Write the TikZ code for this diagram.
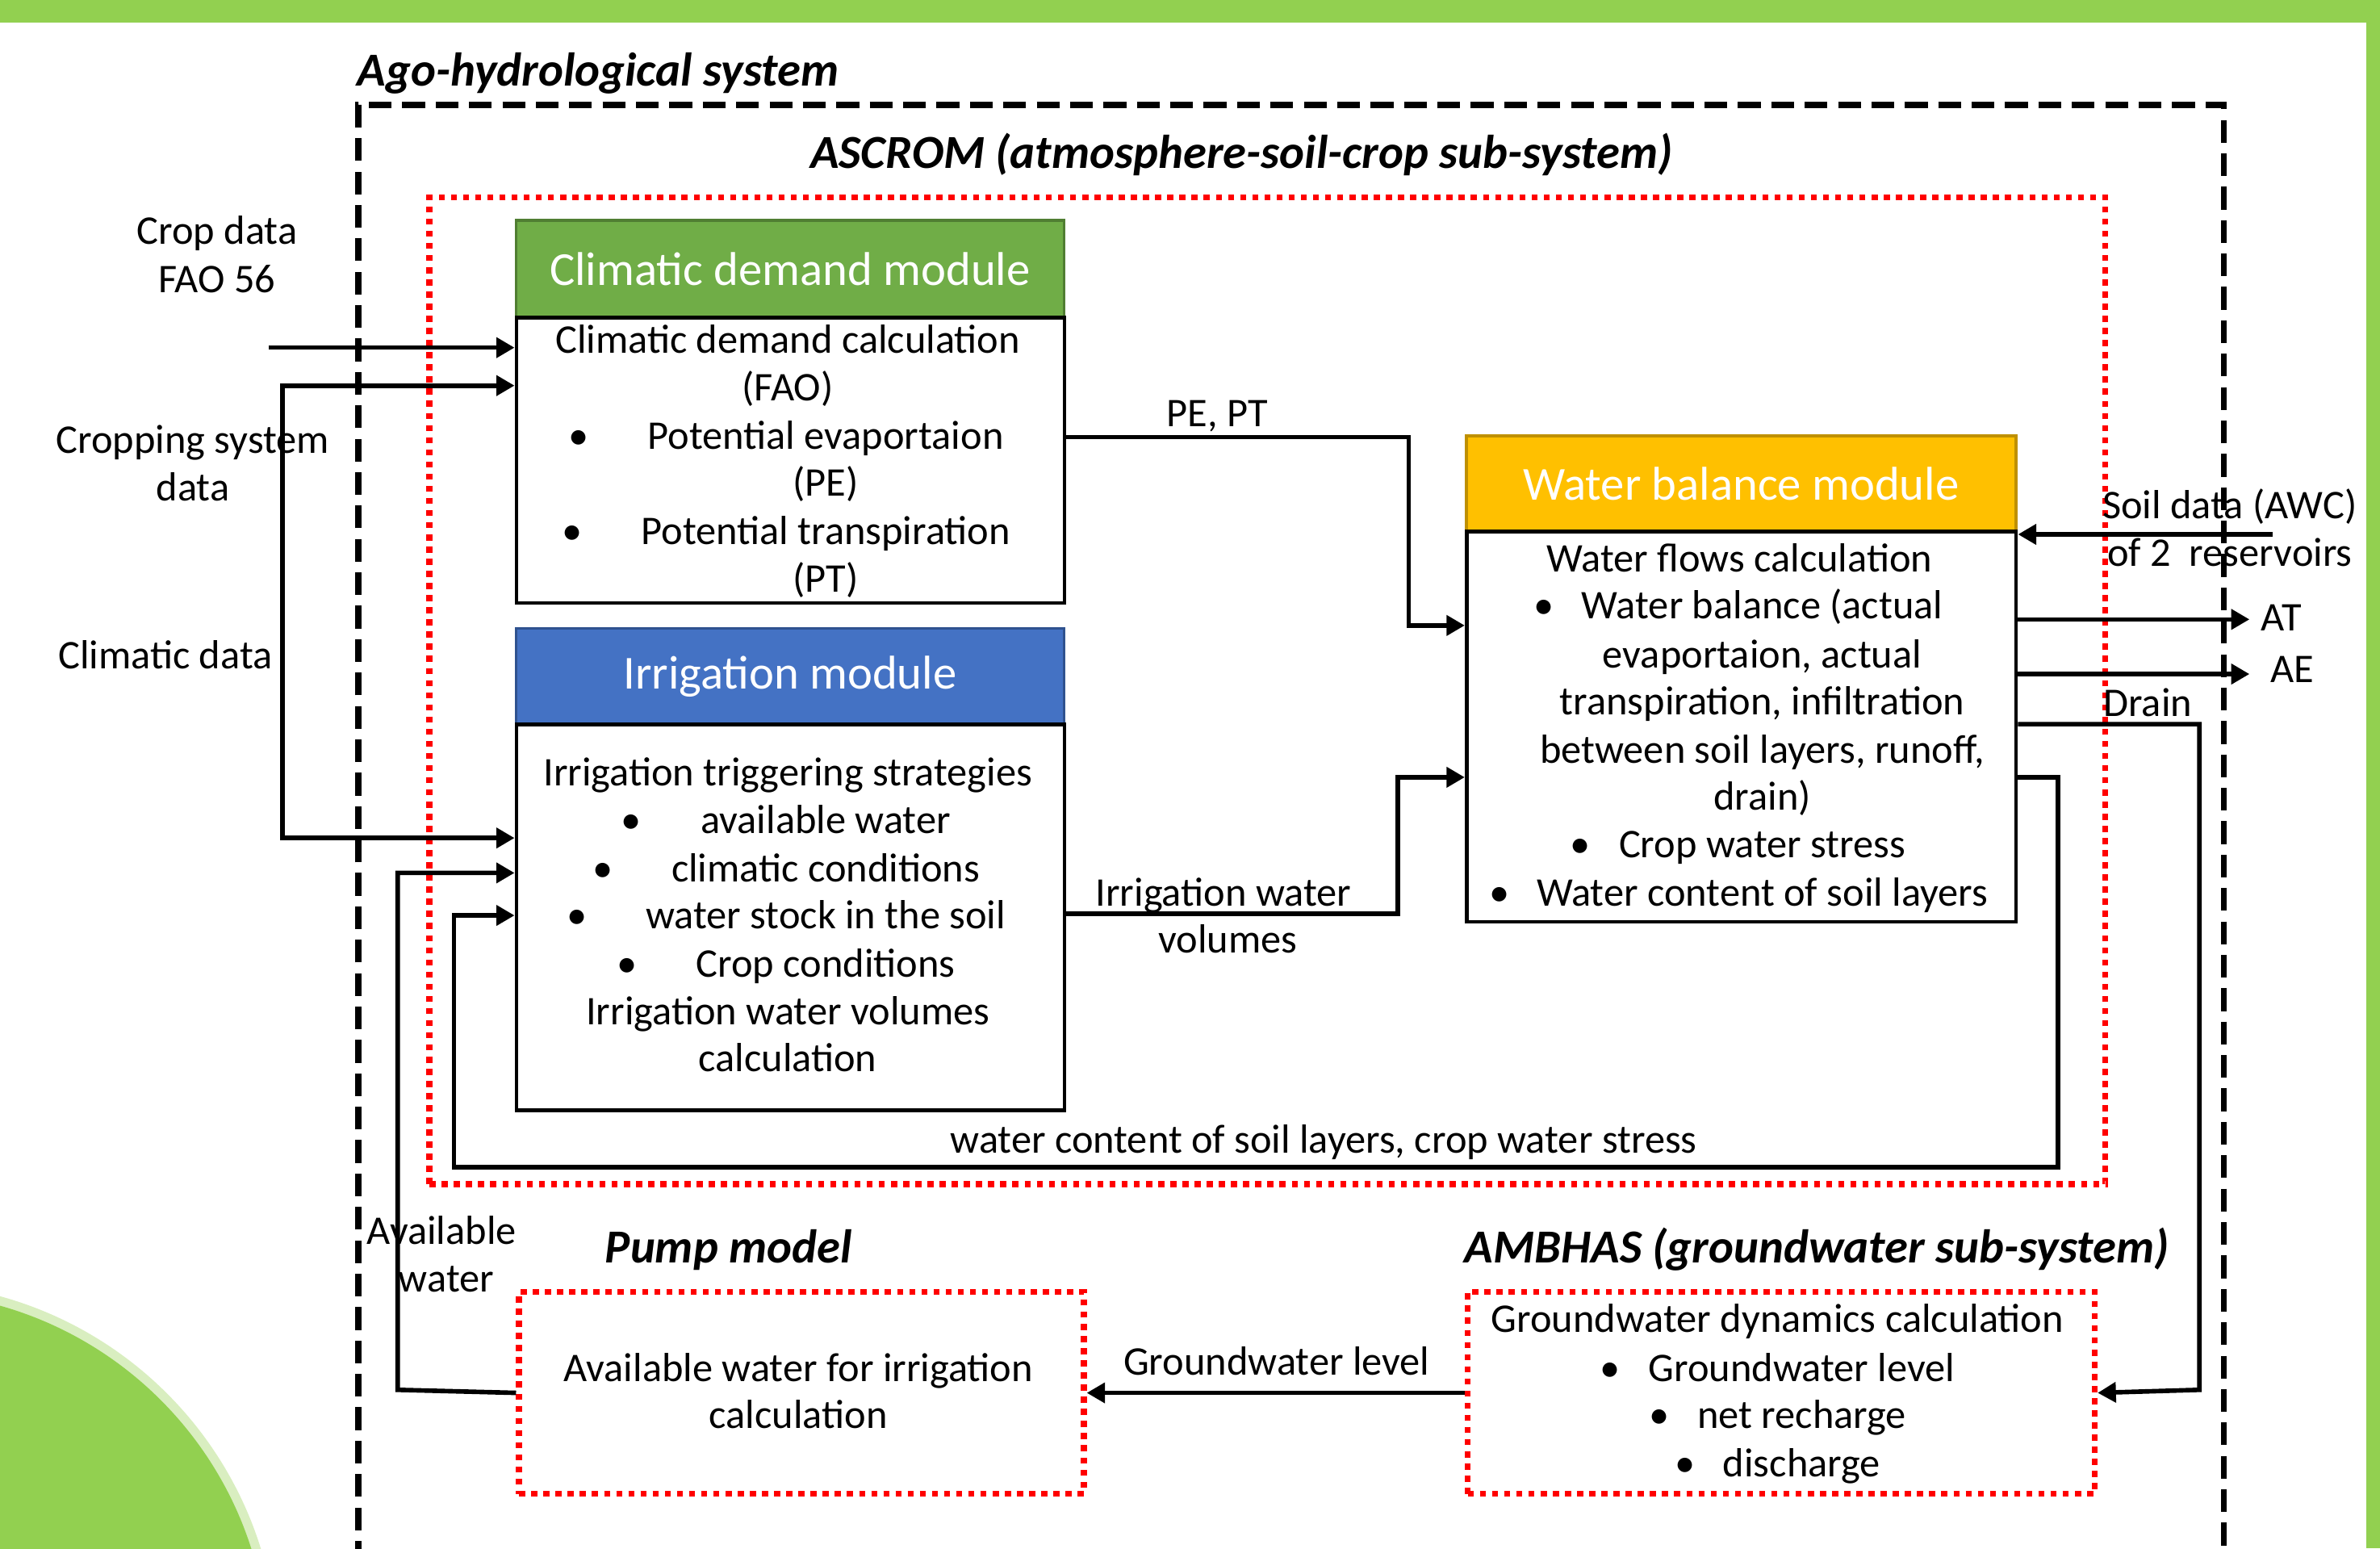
\documentclass[tikz,border=0pt]{standalone}
\usepackage{fontspec}
\setmainfont{Carlito}
\usetikzlibrary{arrows.meta,calc}
\definecolor{frameg}{HTML}{92D050}
\definecolor{rimg}{HTML}{D9EEC0}
\definecolor{hgreen}{HTML}{70AD47}
\definecolor{hgreenb}{HTML}{507E32}
\definecolor{hblue}{HTML}{4472C4}
\definecolor{hblueb}{HTML}{2F528F}
\definecolor{hyel}{HTML}{FFC000}
\definecolor{hyelb}{HTML}{BF9000}
\newcommand\bodyfs{\fontsize{13.4pt}{15.75pt}\selectfont}
\newcommand\headfs{\fontsize{15.6pt}{18pt}\selectfont}
\newcommand\titfs{\fontsize{15.6pt}{18pt}\selectfont\bfseries\itshape}
\begin{document}
\begin{tikzpicture}[x=0.5pt,y=-0.5pt,
  t/.style={font=\bodyfs, inner sep=0pt, anchor=mid, yshift=-2pt},
  ttl/.style={font=\titfs, inner sep=0pt, anchor=mid, yshift=-2pt},
  hdr/.style={draw=#1, line width=1pt, anchor=north west, minimum width=180.5pt, minimum height=32pt, inner sep=0pt, text=white, font=\headfs},
  bodybox/.style={draw=black, line width=1.25pt, anchor=north west, inner sep=0pt},
  reddot/.style={draw=red, line width=2pt, dash pattern=on 2pt off 2pt, anchor=north west, inner sep=0pt},
  arr/.style={line width=1.5pt, -{Triangle[length=6pt,width=6.5pt]}},
  ln/.style={line width=1.5pt}]
\useasboundingbox (0,0) rectangle (1568,1020);
% frame decorations
\begin{scope}
\clip (0,0) rectangle (1568,1020);
\fill[rimg] (-66,1094) circle (249);
\fill[frameg] (-66,1094) circle (243);
\end{scope}
\fill[frameg] (0,0) rectangle (1568,15);
\fill[frameg] (1559,0) rectangle (1568,1020);
% outer system box
\draw[line width=2pt, dash pattern=on 7.5pt off 3.5pt] (236,1030) -- (236,69) -- (1465,69) -- (1465,1030);
\node[ttl] (tagro) at (394,48) {Ago-hydrological system};
% ASCROM box
\node[reddot, minimum width=552pt, minimum height=325pt] (ascrom) at (281,128) {};
\node[ttl] (tascrom) at (818,102) {ASCROM (atmosphere-soil-crop sub-system)};
% climatic demand module
\node[hdr=hgreenb, fill=hgreen] (cdh) at (339,144) {Climatic demand module};
\node[bodybox, minimum width=180.5pt, minimum height=94pt] (cdb) at (339,208) {};
\node[t] (cd1) at (519,224) {Climatic demand calculation};
\node[t] (cd2) at (519,255) {(FAO)};
\node[t] (cd3b) at (381,287) {•};
\node[t] (cd3) at (544,287) {Potential evaportaion};
\node[t] (cd4) at (544,318) {(PE)};
\node[t] (cd5b) at (377,350) {•};
\node[t] (cd5) at (544,350) {Potential transpiration};
\node[t] (cd6) at (544,381) {(PT)};
% irrigation module
\node[hdr=hblueb, fill=hblue, minimum height=31.5pt] (irh) at (339,413) {Irrigation module};
\node[bodybox, minimum width=180.5pt, minimum height=127pt] (irb) at (339,476) {};
\node[t] (ir1) at (519,509) {Irrigation triggering strategies};
\node[t] (ir2b) at (416,540) {•};
\node[t] (ir2) at (544,540) {available water};
\node[t] (ir3b) at (397,572) {•};
\node[t] (ir3) at (544,572) {climatic conditions};
\node[t] (ir4b) at (380,603) {•};
\node[t] (ir4) at (544,603) {water stock in the soil};
\node[t] (ir5b) at (413,635) {•};
\node[t] (ir5) at (544,635) {Crop conditions};
\node[t] (ir6) at (519,666) {Irrigation water volumes};
\node[t] (ir7) at (519,697) {calculation};
% water balance module
\node[hdr=hyelb, fill=hyel, minimum width=181pt, minimum height=31.5pt] (wbh) at (965,286) {Water balance module};
\node[bodybox, minimum width=181pt, minimum height=128.5pt] (wbb) at (965,349) {};
\node[t] (wb1) at (1146,368) {Water flows calculation};
\node[t] (wb2b) at (1017,399) {•};
\node[t] (wb2) at (1161,399) {Water balance (actual};
\node[t] (wb3) at (1161,431) {evaportaion, actual};
\node[t] (wb4) at (1161,462) {transpiration, infiltration};
\node[t] (wb5) at (1161,494) {between soil layers, runoff,};
\node[t] (wb6) at (1161,525) {drain)};
\node[t] (wb7b) at (1041,556) {•};
\node[t] (wb7) at (1161,556) {Crop water stress};
\node[t] (wb8b) at (988,588) {•};
\node[t] (wb8) at (1161,588) {Water content of soil layers};
% pump model
\node[reddot, minimum width=186pt, minimum height=66.5pt] (pump) at (340,849) {};
\node[ttl] (tpump) at (480,823) {Pump model};
\node[t] (pm1) at (526,901) {Available water for irrigation};
\node[t] (pm2) at (526,932) {calculation};
% AMBHAS
\node[reddot, minimum width=206.5pt, minimum height=66.5pt] (amb) at (965,849) {};
\node[ttl] (tamb) at (1197,823) {AMBHAS (groundwater sub-system)};
\node[t] (am1) at (1171,869) {Groundwater dynamics calculation};
\node[t] (am2b) at (1061,901) {•};
\node[t] (am2) at (1187,901) {Groundwater level};
\node[t] (am3b) at (1093,932) {•};
\node[t] (am3) at (1187,932) {net recharge};
\node[t] (am4b) at (1110,964) {•};
\node[t] (am4) at (1187,964) {discharge};
% outside labels
\node[t] (lcrop1) at (143,152) {Crop data};
\node[t] (lcrop2) at (143,184) {FAO 56};
\node[t] (lcs1) at (127,290) {Cropping system};
\node[t] (lcs2) at (127,321) {data};
\node[t] (lclim) at (109,432) {Climatic data};
\node[t] (lpe) at (802,272) {PE, PT};
\node[t] (liw1) at (806,588) {Irrigation water};
\node[t] (liw2) at (809,619) {volumes};
\node[t] (lfb) at (872,751) {water content of soil layers, crop water stress};
\node[t] (lsoil1) at (1469,333) {Soil data (AWC)};
\node[t] (lsoil2) at (1469,364) {of 2\ \ reservoirs};
\node[t] (lat) at (1503,407) {AT};
\node[t] (lae) at (1510,441) {AE};
\node[t] (ldrain) at (1415,463) {Drain};
\node[t] (law1) at (291,811) {Available};
\node[t] (law2) at (294,842) {water};
\node[t] (lgw) at (841,897) {Groundwater level};
% connectors
\coordinate (cropin) at (177,229);
\coordinate (soilin) at (1497,352);
\coordinate (atout) at (1482,408);
\coordinate (aeout) at (1482,444);
\draw[arr] (cropin) -- (cdb.west |- cropin);
\draw[ln, {Triangle[length=6pt,width=6.5pt]}-{Triangle[length=6pt,width=6.5pt]}] (cdb.west |- 0,254) -- (186,254) -- (186,552) -- (irb.west |- 0,552);
\draw[arr] (pump.west) -- (262,915.5) -- (262,575) -- (irb.west |- 0,575);
\draw[arr] (wbb.east |- 0,512) -- (1356,512) -- (1356,769) -- (299,769) -- (299,603) -- (irb.west |- 0,603);
\draw[arr] (cdb.east |- 0,288) -- (928,288) -- (928,412) -- (wbb.west |- 0,412);
\draw[arr] (irb.east |- 0,602) -- (921,602) -- (921,512) -- (wbb.west |- 0,512);
\draw[arr] (soilin) -- (wbb.east |- soilin);
\draw[arr] (wbb.east |- atout) -- (atout);
\draw[arr] (wbb.east |- aeout) -- (aeout);
\draw[arr] (wbb.east |- 0,477) -- (1449,477) -- (1449,915.5) -- (amb.east);
\draw[arr] (amb.west) -- (pump.east);
\end{tikzpicture}
\end{document}
